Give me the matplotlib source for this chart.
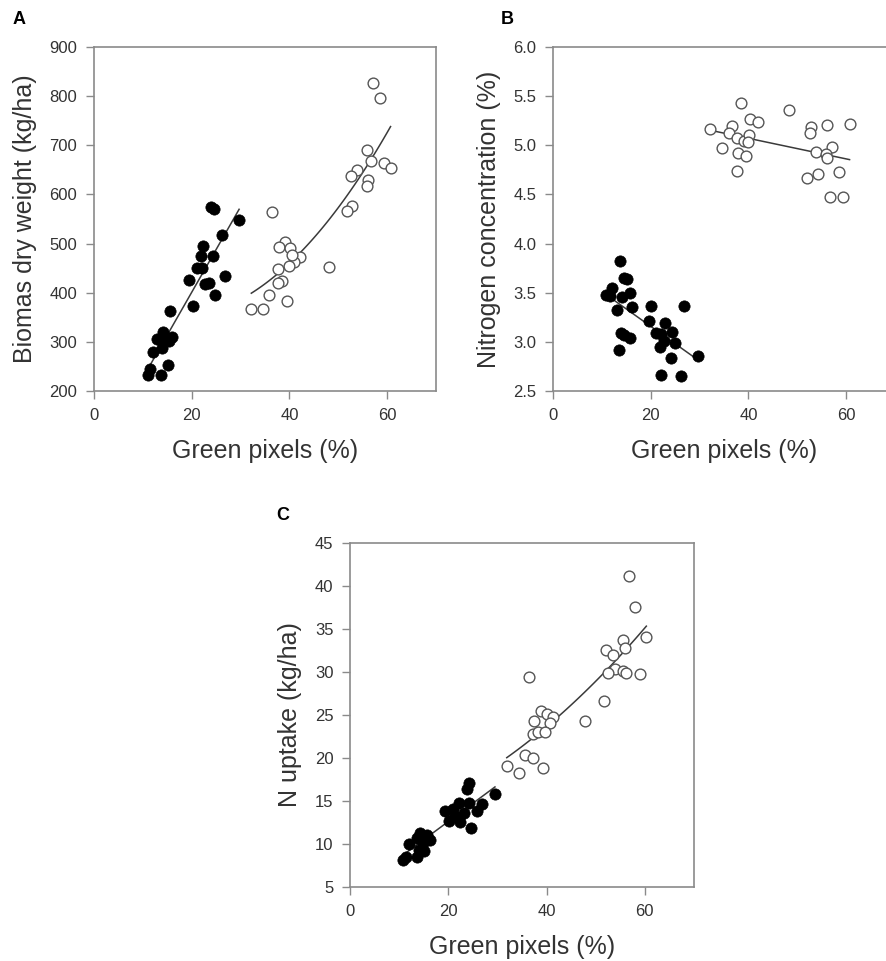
import numpy as np
import matplotlib
matplotlib.use("Agg")
import matplotlib.pyplot as plt

plt.rcParams['font.family'] = ['Liberation Sans', 'DejaVu Sans']

# ---------------- data ----------------
# Panel A: biomass dry weight (kg/ha) vs green pixels (%)
a_black_x = [24.0, 24.5, 29.7, 26.2, 22.4, 21.9, 24.3, 21.1, 22.1, 19.5, 22.7, 23.5, 26.9,
             24.8, 20.2, 15.6, 14.2, 13.7, 15.9, 15.4, 12.8, 12.0, 13.9, 15.2, 11.5, 11.0, 13.7]
a_black_y = [575, 571, 547, 518, 496, 474, 474, 450, 450, 426, 418, 420, 435,
             395, 373, 362, 320, 305, 309, 302, 305, 280, 287, 253, 244, 233, 232]
a_open_x = [57.1, 58.5, 55.9, 56.6, 59.4, 60.7, 53.8, 52.6, 56.0, 55.9, 52.9, 51.8, 36.5, 39.0,
            37.8, 40.2, 42.1, 41.0, 39.9, 48.2, 37.6, 38.4, 37.7, 35.9, 39.6, 32.2, 34.6, 40.5]
a_open_y = [827, 797, 690, 668, 664, 654, 649, 637, 629, 617, 576, 567, 565, 504,
            494, 490, 472, 462, 455, 453, 448, 424, 419, 395, 384, 367, 367, 476]

# Panel B: nitrogen concentration (%) vs green pixels (%)
b_black_x = [14.5, 15.2, 12.1, 10.9, 11.7, 14.1, 15.7, 16.2, 13.0, 20.1, 26.9, 19.6, 23.0, 21.0,
             22.2, 24.4, 13.9, 14.6, 15.7, 22.7, 24.9, 21.8, 13.6, 24.2, 29.6, 22.1, 26.1, 13.8]
b_black_y = [3.65, 3.64, 3.55, 3.48, 3.47, 3.46, 3.50, 3.35, 3.32, 3.36, 3.36, 3.21, 3.19, 3.09,
             3.08, 3.10, 3.09, 3.07, 3.04, 3.01, 2.99, 2.95, 2.92, 2.84, 2.86, 2.66, 2.65, 3.82]
b_open_x = [38.4, 48.3, 40.4, 41.9, 36.7, 32.2, 36.0, 37.6, 39.1, 40.1, 39.9, 34.6, 37.9, 39.6,
            37.7, 52.9, 52.5, 56.0, 60.7, 57.2, 53.9, 55.8, 56.0, 58.5, 54.3, 51.9, 56.6, 59.4]
b_open_y = [5.43, 5.36, 5.27, 5.24, 5.20, 5.17, 5.13, 5.07, 5.04, 5.10, 5.03, 4.97, 4.92, 4.89,
            4.74, 5.19, 5.12, 5.21, 5.22, 4.98, 4.93, 4.91, 4.87, 4.73, 4.71, 4.67, 4.47, 4.47]

# Panel C: N uptake (kg/ha) vs green pixels (%)
c_black_x = [24.3, 23.9, 29.5, 24.3, 22.1, 26.8, 19.3, 20.9, 23.1, 21.4, 25.9, 20.2, 22.4,
             24.6, 14.3, 15.6, 16.2, 13.6, 12.1, 14.8, 14.1, 15.1, 13.6, 11.3, 10.7, 15.0]
c_black_y = [17.1, 16.4, 15.8, 14.8, 14.8, 14.7, 13.8, 14.1, 13.6, 13.2, 13.8, 12.7, 12.6,
             11.9, 11.3, 11.1, 10.5, 10.7, 10.0, 10.1, 9.3, 9.2, 8.5, 8.5, 8.1, 10.8]
c_open_x = [56.8, 58.0, 60.3, 55.6, 52.1, 56.0, 53.6, 54.0, 55.5, 56.2, 52.5, 59.1, 36.4, 51.6,
            38.8, 40.1, 41.4, 37.5, 40.6, 47.9, 37.2, 38.2, 39.7, 35.7, 37.3, 39.2, 31.9, 34.4]
c_open_y = [41.2, 37.6, 34.1, 33.7, 32.6, 32.8, 32.0, 30.3, 30.1, 29.9, 29.9, 29.8, 29.4, 26.6,
            25.5, 25.1, 24.8, 24.3, 24.1, 24.3, 22.8, 23.0, 23.0, 20.4, 20.0, 18.8, 19.1, 18.2]

x_ticks = [0, 20, 40, 60]
a_yticks = [200, 300, 400, 500, 600, 700, 800, 900]
b_yticks = [2.5, 3.0, 3.5, 4.0, 4.5, 5.0, 5.5, 6.0]
c_yticks = [5, 10, 15, 20, 25, 30, 35, 40, 45]

# ---------------- figure ----------------
W, H = 886, 961
fig = plt.figure(figsize=(W / 100, H / 100), dpi=100)

def px_axes(left, top, right, bottom):
    return fig.add_axes([left / W, 1 - bottom / H, (right - left) / W, (bottom - top) / H])

axA = px_axes(94, 47, 436, 391)
axB = px_axes(553, 47, 895, 391)
axC = px_axes(350, 543, 694, 887)

spine_col = '#8a8a8a'
text_col = '#333333'
line_col = '#3a3a3a'


def style(ax, yticks, ylim, ylabel, yfmt):
    ax.set_xlim(0, 70)
    ax.set_ylim(*ylim)
    ax.set_xticks(x_ticks)
    ax.set_yticks(yticks)
    ax.set_yticklabels([yfmt.format(v) for v in yticks])
    for s in ax.spines.values():
        s.set_color(spine_col)
        s.set_linewidth(1.2)
    ax.tick_params(direction='out', length=6, width=1.0, color=spine_col,
                   labelsize=12, labelcolor=text_col, pad=6)
    ax.set_xlabel('Green pixels (%)', fontsize=18, color=text_col, labelpad=12)
    ax.set_ylabel(ylabel, fontsize=18, color=text_col, labelpad=9)


def scatter_pair(ax, bx, by, ox, oy, deg_open):
    ax.scatter(bx, by, s=66, c='#000000', edgecolors='#000000', linewidths=0.5, zorder=3)
    ax.scatter(ox, oy, s=60, facecolors='white', edgecolors='#555555', linewidths=1.0, zorder=3)
    # regression lines computed from the data
    cb = np.polyfit(bx, by, 1)
    xs = np.linspace(min(bx), max(bx), 50)
    ax.plot(xs, np.polyval(cb, xs), color=line_col, lw=1.1, zorder=2)
    co = np.polyfit(ox, oy, deg_open)
    xs = np.linspace(min(ox), max(ox), 80)
    ax.plot(xs, np.polyval(co, xs), color=line_col, lw=1.1, zorder=2)


scatter_pair(axA, a_black_x, a_black_y, a_open_x, a_open_y, 2)
style(axA, a_yticks, (200, 900), 'Biomas dry weight (kg/ha)', '{:.0f}')

scatter_pair(axB, b_black_x, b_black_y, b_open_x, b_open_y, 1)
style(axB, b_yticks, (2.5, 6.0), 'Nitrogen concentration (%)', '{:.1f}')

scatter_pair(axC, c_black_x, c_black_y, c_open_x, c_open_y, 2)
style(axC, c_yticks, (5, 45), 'N uptake (kg/ha)', '{:.0f}')

fig.text(19 / W, 1 - 19 / H, 'A', fontsize=13, fontweight='bold', ha='center', va='center')
fig.text(507 / W, 1 - 19 / H, 'B', fontsize=13, fontweight='bold', ha='center', va='center')
fig.text(283 / W, 1 - 515 / H, 'C', fontsize=13, fontweight='bold', ha='center', va='center')

fig.savefig('out.png', dpi=100)
